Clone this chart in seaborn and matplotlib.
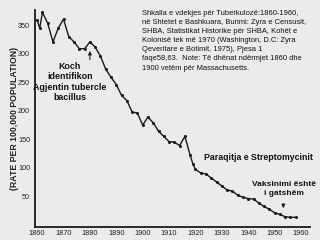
import matplotlib
matplotlib.use("Agg")
import matplotlib.pyplot as plt
import seaborn as sns
import pandas as pd

years = [1860, 1861, 1862, 1864, 1866, 1868, 1870, 1872, 1874, 1876, 1878, 1880,
         1882, 1884, 1886, 1888, 1890, 1892, 1894, 1896, 1898, 1900, 1902, 1904,
         1906, 1908, 1910, 1912, 1914, 1916, 1918, 1919, 1920, 1922, 1924, 1926,
         1928, 1930, 1932, 1934, 1936, 1938, 1940, 1942, 1944, 1946, 1948, 1950,
         1952, 1954, 1956, 1958]
rates = [360, 345, 373, 354, 321, 345, 361, 330, 321, 309, 309, 321,
         312, 296, 273, 259, 246, 227, 218, 198, 196, 175, 189, 179,
         164, 155, 146, 145, 139, 155, 122, 107, 97, 91, 89, 82,
         75, 68, 61, 59, 52, 48, 46, 45, 38, 32, 27, 21,
         18, 14, 13, 13]
xticks = [1860, 1870, 1880, 1890, 1900, 1910, 1920, 1930, 1940, 1950, 1960]
yticks = [50, 100, 150, 200, 250, 300, 350]

ylabel = "(RATE PER 100,000 POPULATION)"
koch_text = "Koch\nidentifikon\nAgjentin tubercle\nbacillus"
source_text = ("Shkalla e vdekjes për Tuberkulozë:1860-1960,\n"
               "në Shtetet e Bashkuara, Burimi: Zyra e Censusit,\n"
               "SHBA, Statistikat Historike për SHBA, Kohët e\n"
               "Kolonisë tek më 1970 (Washington, D.C: Zyra\n"
               "Qeveritare e Botimit, 1975), Pjesa 1\n"
               "faqe58,63.  Note: Të dhënat ndërmjet 1860 dhe\n"
               "1900 vetëm për Massachusetts.")
strepto_text = "Paraqitja e Streptomycinit"
vaccine_text = "Vaksinimi është\ni gatshëm"

df = pd.DataFrame({"year": years, "rate": rates})

sns.set_style("white")
plt.rcParams['font.family'] = ['Liberation Sans', 'DejaVu Sans']

fig = plt.figure(figsize=(3.2, 2.4), dpi=100)
bg = "#ebebeb"
fig.patch.set_facecolor(bg)
ax = fig.add_axes([35/320, 13/240, 275/320, 217/240])
ax.set_facecolor(bg)

sns.lineplot(data=df, x="year", y="rate", ax=ax, color="#1a1a1a", linewidth=1.0,
             marker="o", markersize=2.2, markeredgewidth=0, markerfacecolor="#1a1a1a")

ax.set_xlim(1859.2, 1963.4)
ax.set_ylim(-4, 377)
ax.set_xticks(xticks)
ax.set_yticks(yticks)
ax.tick_params(axis="x", direction="in", length=3, width=0.8, labelsize=5.3, pad=2, colors="#222222")
ax.tick_params(axis="y", direction="out", length=2.5, width=0.8, labelsize=5.2, pad=1, colors="#222222")
for s in ["top", "right"]:
    ax.spines[s].set_visible(False)
for s in ["left", "bottom"]:
    ax.spines[s].set_linewidth(1.3)
    ax.spines[s].set_color("#1a1a1a")
ax.set_xlabel("")
ax.set_ylabel("")

fig.text(15/320, 1 - 118/240, ylabel, rotation=90, ha="center", va="center",
         fontsize=6.3, fontweight="bold", color="#222222")

fig.text(70/320, 1 - 82/240, koch_text, ha="center", va="center", fontsize=6.4,
         fontweight="bold", color="#111111", linespacing=1.2)
ax.annotate("", xy=(1880, 310), xytext=(1880, 285),
            arrowprops=dict(arrowstyle="-|>", color="#222222", lw=0.8, mutation_scale=5))

fig.text(142/320, 1 - 10/240, source_text, ha="left", va="top", fontsize=5.4,
         color="#111111", linespacing=1.42)

fig.text(204/320, 1 - 157/240, strepto_text, ha="left", va="center", fontsize=6.3,
         fontweight="bold", color="#111111")

fig.text(252/320, 1 - 189/240, vaccine_text, ha="left", va="center", fontsize=6.0,
         fontweight="bold", color="#111111", linespacing=1.25, multialignment="center")
ax.annotate("", xy=(1953.3, 24), xytext=(1953.3, 42),
            arrowprops=dict(arrowstyle="-|>", color="#222222", lw=0.8, mutation_scale=5))

fig.savefig("out.png", dpi=100, facecolor=bg)
